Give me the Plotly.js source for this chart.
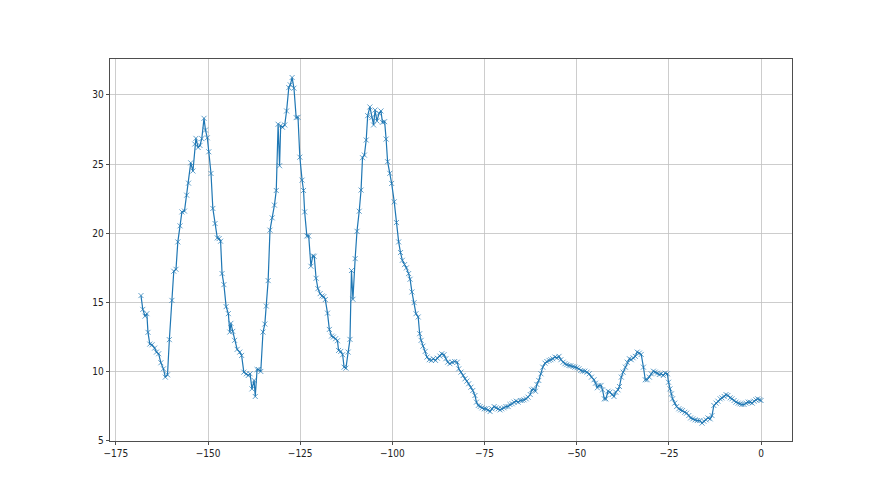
<!DOCTYPE html>
<html>
<head>
<meta charset="utf-8">
<script src="https://cdn.plot.ly/plotly-3.0.1.min.js"></script>
<style>html,body{margin:0;padding:0;background:#fff;}#chart{width:880px;height:495px;}</style>
</head>
<body>
<div id="chart"></div>
<script>
const hours = [
-168.2,-167.7,-167.1,-166.6,-166.3,-165.8,-165.2,-164.5,-164.0,-163.4,-162.8,-162.1,-161.6,-161.0,-160.5,-159.8,-159.3,-158.7,-158.2,-157.6,-157.1,-156.4,-155.8,-155.3,-154.7,-154.1,-153.6,-153.3,-152.7,-152.2,-151.7,-151.1,-150.7,-150.2,-149.8,-149.2,-148.7,-148.1,-147.5,-147.0,-146.6,-146.2,-145.7,-145.1,-144.5,-144.1,-143.8,-143.3,-142.8,-142.1,-141.4,-140.9,-140.3,-139.6,
-139.1,-138.6,-138.1,-137.5,-137.2,-136.7,-136.3,-135.7,-135.1,-134.6,-134.2,-133.7,-133.2,-132.6,-132.0,-131.5,-131.0,-130.6,-130.3,-129.8,-129.2,-128.7,-128.1,-127.7,-127.2,-126.7,-126.1,-125.6,-125.1,-124.5,-124.1,-123.8,-123.2,-122.7,-122.1,-121.6,-121.2,-120.7,-120.2,-119.6,-119.1,-118.6,-118.2,-117.6,-117.1,-116.5,-116.0,-115.4,-114.9,-114.6,-114.0,-113.5,-113.1,-112.6,-112.0,-111.5,
-111.1,-110.7,-110.1,-109.6,-109.0,-108.5,-108.1,-107.6,-107.1,-106.7,-106.1,-105.6,-105.1,-104.7,-104.2,-103.6,-103.1,-102.7,-102.1,-101.7,-101.3,-100.7,-100.2,-99.5,-98.9,-98.3,-97.8,-97.3,-96.7,-96.2,-95.6,-95.2,-94.7,-94.1,-93.6,-93.0,-92.6,-92.2,-91.7,-91.1,-90.6,-90.0,-89.4,-88.9,-88.3,-87.8,-87.1,-86.6,-86.0,-85.5,-85.0,
-84.4,-83.8,-83.1,-82.4,-82.0,-81.4,-80.8,-80.3,-79.8,-79.3,-78.7,-78.2,-77.6,-77.2,-76.7,-76.2,-75.7,-75.1,-74.6,-74.0,-73.5,-73.0,-72.4,-71.9,-71.3,-70.8,-70.3,-69.7,-69.2,-68.6,-68.1,-67.5,-67.0,-66.4,-65.9,-65.3,-64.8,-64.3,-63.7,-63.2,-62.6,-62.2,-61.7,-61.2,-60.8,-60.3,-59.7,-59.2,-58.6,-58.1,-57.5,-57.0,-56.5,-55.9,-55.4,-54.8,-54.3,-53.7,-53.2,-52.7,-52.1,-51.6,-51.0,-50.5,-49.9,-49.4,-48.9,
-48.4,-47.8,-47.2,-46.6,-46.0,-45.3,-44.9,-44.4,-44.0,-43.4,-43.0,-42.5,-42.1,-41.5,-41.0,-40.4,-39.9,-39.4,-38.8,-38.4,-37.9,-37.4,-36.8,-36.3,-35.7,-35.2,-34.7,-34.1,-33.6,-33.0,-32.5,-31.9,-31.4,-30.9,-30.3,-29.8,-29.2,-28.7,-28.1,-27.6,-27.1,-26.5,-26.0,-25.4,-25.1,-24.7,-24.3,-24.0,-23.4,-22.9,-22.3,-21.8,-21.3,-20.7,-20.2,-19.6,-19.1,-18.5,
-17.9,-17.3,-16.6,-16.0,-15.5,-14.9,-14.4,-13.8,-13.3,-12.8,-12.2,-11.7,-11.1,-10.6,-10.0,-9.5,-9.0,-8.4,-7.9,-7.3,-6.8,-6.2,-5.7,-5.2,-4.6,-4.1,-3.5,-3.0,-2.4,-1.9,-1.4,-0.9,-0.4,0.0
];
const values = [
15.49,14.49,14.0,14.18,12.83,11.98,11.93,11.69,11.4,11.28,10.63,10.19,9.59,9.76,12.3,15.14,17.25,17.39,19.37,20.53,21.54,21.6,22.75,23.62,25.09,24.5,26.45,26.86,26.2,26.35,26.84,28.31,27.46,26.9,25.89,24.32,21.79,20.7,19.66,19.61,19.42,17.08,16.28,14.69,14.18,12.85,13.48,12.9,12.25,11.6,11.4,11.16,9.95,9.83,
9.71,9.83,8.74,9.35,8.19,10.14,10.14,10.0,12.85,13.43,14.73,16.57,20.22,21.11,22.03,23.09,27.88,24.88,27.78,27.66,27.83,28.84,30.53,30.73,31.26,30.49,28.36,28.38,25.5,23.84,23.09,21.54,19.8,19.8,17.61,18.35,18.33,16.74,15.99,15.63,15.46,15.41,15.2,14.22,13.04,12.56,12.49,12.37,12.22,11.52,11.45,11.21,10.31,10.24,11.4,12.32,
17.3,15.22,18.16,20.14,21.59,23.12,25.46,25.65,26.74,28.5,29.13,28.36,27.83,28.91,28.12,28.67,28.84,28.02,28.07,26.81,25.17,24.33,23.6,22.27,20.77,19.37,18.6,18.04,17.73,17.49,17.08,16.67,15.75,14.98,14.18,13.94,12.73,12.25,11.83,11.45,11.04,10.85,10.8,10.92,10.8,10.96,11.11,11.28,11.21,10.92,10.67,
10.56,10.67,10.72,10.67,10.19,9.95,9.71,9.47,9.3,9.11,8.86,8.62,8.26,7.78,7.54,7.46,7.37,7.3,7.3,7.22,7.1,7.3,7.46,7.37,7.3,7.22,7.3,7.37,7.46,7.46,7.61,7.66,7.78,7.85,7.78,7.9,7.9,7.95,8.02,8.14,8.33,8.67,8.72,8.57,9.06,9.35,9.83,10.31,10.6,10.72,10.8,10.85,10.92,11.04,10.99,11.09,10.85,10.67,10.56,10.49,10.43,10.41,10.36,10.31,10.27,10.19,10.07,
10.02,10.02,9.95,9.83,9.59,9.4,9.15,8.82,8.99,8.99,8.67,8.02,8.02,8.57,8.5,8.33,8.19,8.5,8.67,8.91,9.59,9.95,10.31,10.67,10.92,10.85,10.99,11.09,11.4,11.33,11.23,10.31,9.4,9.4,9.59,9.83,10.02,9.95,9.88,9.78,9.83,9.71,9.88,9.83,9.22,8.74,8.38,8.02,7.71,7.46,7.3,7.22,7.17,7.05,6.98,6.81,6.64,6.57,
6.5,6.45,6.45,6.26,6.4,6.5,6.64,6.57,6.81,7.54,7.71,7.85,8.02,8.09,8.19,8.33,8.26,8.09,8.02,7.9,7.78,7.71,7.66,7.61,7.61,7.71,7.78,7.78,7.71,7.85,7.95,8.02,7.95,7.9
];
const xTicks = [-175, -150, -125, -100, -75, -50, -25, 0];
const yTicks = [5, 10, 15, 20, 25, 30];

const trace = {
  x: hours, y: values, type: 'scatter', mode: 'lines+markers',
  line: {color: '#1f77b4', width: 1.2},
  marker: {symbol: 'x-thin-open', size: 5, color: 'rgba(31,119,180,0.7)', line: {color: 'rgba(31,119,180,0.7)', width: 1}},
  hoverinfo: 'skip'
};
const axisCommon = {
  showgrid: true, gridcolor: '#c0c0c0', gridwidth: 0.8,
  zeroline: false, showline: true, mirror: true, linecolor: '#222', linewidth: 0.8,
  ticks: 'outside', ticklen: 3.5, tickwidth: 0.8, tickcolor: '#222',
  tickfont: {family: '"Liberation Sans Narrow", "DejaVu Sans Condensed", "DejaVu Sans", sans-serif', size: 10, color: '#222'}
};
const layout = {
  width: 880, height: 495,
  margin: {l: 110, r: 88, t: 59, b: 54},
  paper_bgcolor: '#fff', plot_bgcolor: '#fff',
  showlegend: false,
  xaxis: Object.assign({}, axisCommon, {range: [-176.6, 8.4], tickvals: xTicks, ticktext: xTicks.map(v => v < 0 ? '\u2212' + Math.abs(v) : String(v))}),
  yaxis: Object.assign({}, axisCommon, {range: [4.97, 32.6], tickvals: yTicks, ticktext: yTicks.map(String)})
};
Plotly.newPlot('chart', [trace], layout, {staticPlot: true, displayModeBar: false});
</script>
</body>
</html>
